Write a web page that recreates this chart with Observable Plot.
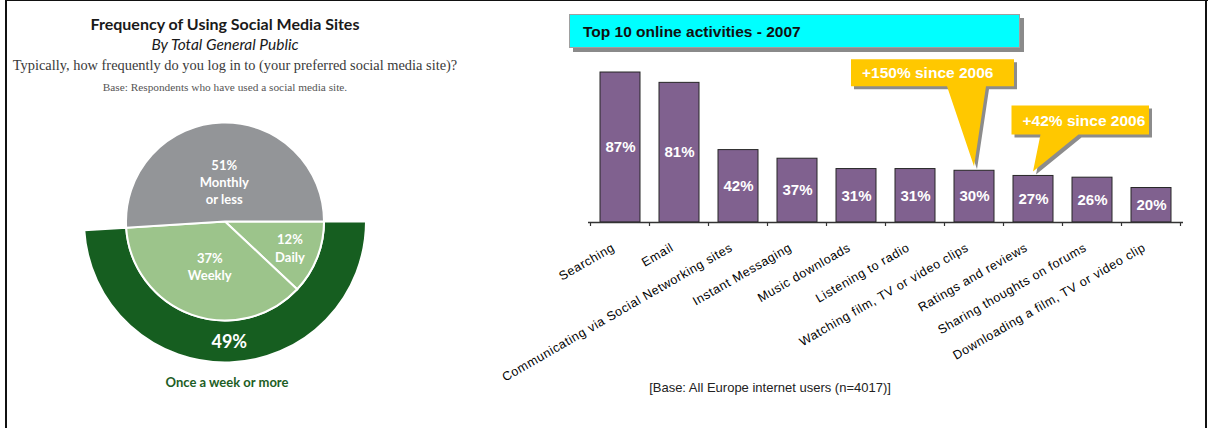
<!DOCTYPE html>
<html>
<head>
<meta charset="utf-8">
<script src="https://cdn.jsdelivr.net/npm/d3@7"></script>
<script src="https://cdn.jsdelivr.net/npm/@observablehq/plot@0.6"></script>
<style>
  html, body { margin: 0; padding: 0; background: #fff; }
  #frame { position: relative; width: 1208px; height: 428px; overflow: hidden; background: #fff; }
  .abs { position: absolute; white-space: nowrap; }
  .line { position: absolute; background: #111; }
  .ctr { text-align: center; }
</style>
</head>
<body>
<div id="frame">
  <div class="line" style="left:5px;top:0;width:2px;height:428px;"></div>
  <div class="line" style="left:5px;top:0;width:1203px;height:1px;"></div>
  <div class="line" style="left:1205px;top:0;width:2px;height:428px;"></div>

  <div class="abs ctr" id="pieTitle" style="left:0;width:450px;top:14px;font:700 16px/20px Lato, 'Open Sans', sans-serif;color:#1a1a1a;"></div>
  <div class="abs ctr" id="pieSub" style="left:0;width:450px;top:34px;font:italic 15.5px/20px Lato, 'Open Sans', sans-serif;color:#1a1a1a;"></div>
  <div class="abs ctr" id="pieQuestion" style="left:0;width:470px;top:55px;font:14.4px/20px 'Liberation Serif', 'DejaVu Serif', serif;color:#3a3a3a;"></div>
  <div class="abs ctr" id="pieBase" style="left:0;width:450px;top:79px;font:11.3px/16px 'Liberation Serif', 'DejaVu Serif', serif;color:#555;"></div>
  <div class="abs ctr" id="pieFoot" style="left:2px;width:450px;top:373px;font:700 13px/18px Lato, 'Open Sans', sans-serif;color:#1d5e25;"></div>

  <div id="pie" class="abs" style="left:0;top:0;"></div>

  <div class="abs" id="barTitle" style="left:569px;top:14px;width:451px;height:34px;background:#00ffff;border:1px solid #a0a0a0;box-shadow:4px 4px 0 #8a8a8a;font:700 15.5px/33px 'Liberation Sans', Arial, sans-serif;color:#111;padding-left:13px;box-sizing:border-box;"></div>
  <div id="bars" class="abs" style="left:540px;top:0;"></div>
  <div class="abs ctr" id="barCaption" style="left:620px;width:300px;top:379px;font:13px/18px 'Liberation Sans', Arial, sans-serif;color:#222;"></div>
</div>

<script>
// ---------- Data ----------
const pieTitle = "Frequency of Using Social Media Sites";
const pieSubtitle = "By Total General Public";
const pieQuestion = "Typically, how frequently do you log in to (your preferred social media site)?";
const pieBase = "Base: Respondents who have used a social media site.";
const freqCategories = ["Daily", "Weekly", "Monthly or less"];
const freqShares = [12, 37, 51];
const freqLabelLines = ["12%\nDaily", "37%\nWeekly", "51%\nMonthly\nor less"];
const combinedLabel = "Once a week or more";

const barTitle = "Top 10 online activities - 2007";
const activities = [
  "Searching", "Email", "Communicating via Social Networking sites",
  "Instant Messaging", "Music downloads", "Listening to radio",
  "Watching film, TV or video clips", "Ratings and reviews",
  "Sharing thoughts on forums", "Downloading a film, TV or video clip"
];
const activityShares = [87, 81, 42, 37, 31, 31, 30, 27, 26, 20];
const calloutActivities = ["Watching film, TV or video clips", "Ratings and reviews"];
const calloutTexts = ["+150% since 2006", "+42% since 2006"];
const barCaption = "[Base: All Europe internet users (n=4017)]";

// ---------- Styles / layout (not data) ----------
const calloutLayout = [
  {left: -123, right: 40, top: -107, bottom: -80, base1: -27, base2: 12, textDx: 11},
  {left: -21.5, right: 116, top: -66, bottom: -37, base1: 7.5, base2: 45.5, textDx: 11}
];

// ---------- Texts ----------
document.getElementById("pieTitle").textContent = pieTitle;
document.getElementById("pieSub").textContent = pieSubtitle;
document.getElementById("pieQuestion").textContent = pieQuestion;
document.getElementById("pieBase").textContent = pieBase;
document.getElementById("pieFoot").textContent = combinedLabel;
document.getElementById("barTitle").textContent = barTitle;
document.getElementById("barCaption").textContent = barCaption;

// ---------- Pie ----------
const freqData = freqCategories.map((c, i) => ({category: c, share: freqShares[i], label: freqLabelLines[i]}));
const start = Math.PI / 2;
const arcs = d3.pie().sort(null).value(d => d.share).startAngle(start).endAngle(start + 2 * Math.PI)(freqData);
const combinedShare = freqShares[0] + freqShares[1];
const total = d3.sum(freqShares);
const ringEnd = start + 2 * Math.PI * combinedShare / total;
const pieColors = {"Daily": "#9cc48b", "Weekly": "#9cc48b", "Monthly or less": "#939598"};
const R0 = 0.99, R1 = 1.41;

const pieLabelData = arcs.map(a => {
  const mid = (a.startAngle + a.endAngle) / 2;
  const frac = a.data.share / total;
  const k = frac > 0.5 ? 0.41 : frac < 0.2 ? 0.7 : 0.47;
  return {x: Math.sin(mid) * R0 * k, y: Math.cos(mid) * R0 * k, text: a.data.label};
});
const ringMid = (start + ringEnd) / 2;
const ringLabel = [{x: Math.sin(ringMid) * (R0 + R1) / 2, y: Math.cos(ringMid) * (R0 + R1) / 2, text: combinedShare + "%"}];

function pieMark(index, scales) {
  const sx = scales.x, sy = scales.y;
  const cx = sx(0), cy = sy(0), u = sx(1) - sx(0);
  const g = d3.create("svg:g").attr("transform", `translate(${cx},${cy})`);
  g.append("path")
    .attr("d", d3.arc()({innerRadius: R0 * u, outerRadius: R1 * u, startAngle: start, endAngle: ringEnd}))
    .attr("fill", "#165e20").attr("stroke", "#fff").attr("stroke-width", 2);
  for (const a of arcs) {
    g.append("path")
      .attr("d", d3.arc()({innerRadius: 0, outerRadius: R0 * u, startAngle: a.startAngle, endAngle: a.endAngle}))
      .attr("fill", pieColors[a.data.category]).attr("stroke", "#fff").attr("stroke-width", 2);
  }
  return g.node();
}

const pie = Plot.plot({
  width: 450, height: 428, margin: 0,
  x: {domain: [-2.25, 2.25], axis: null},
  y: {domain: [-2.065, 2.215], axis: null},
  style: {background: "transparent", fontFamily: "Lato, 'Open Sans', sans-serif", overflow: "visible"},
  marks: [
    pieMark,
    Plot.text(pieLabelData, {x: "x", y: "y", text: "text", fill: "#fff", fontSize: 13, fontWeight: "bold", lineHeight: 1.33}),
    Plot.text(ringLabel, {x: "x", y: "y", text: "text", fill: "#fff", fontSize: 18, fontWeight: "bold"})
  ]
});
document.getElementById("pie").appendChild(pie);

// ---------- Bars ----------
const barData = activities.map((a, i) => ({activity: a, share: activityShares[i]}));

function axisTicks(index, scales) {
  const sx = scales.x, sy = scales.y;
  const bw = sx.bandwidth(), step = sx.step();
  const edges = activities.map(a => sx(a) - (step - bw) / 2);
  edges.push(sx(activities[activities.length - 1]) + bw + (step - bw) / 2);
  const g = d3.create("svg:g").attr("stroke", "#333").attr("stroke-width", 1.2);
  const y0 = sy(0);
  for (const e of edges) g.append("line").attr("x1", e).attr("x2", e).attr("y1", y0).attr("y2", y0 + 4);
  return g.node();
}

function calloutMark(index, scales) {
  const sx = scales.x, sy = scales.y;
  const bw = sx.bandwidth();
  const g = d3.create("svg:g").attr("text-anchor", "start");
  calloutActivities.forEach((act, i) => {
    const L = calloutLayout[i];
    const share = activityShares[activities.indexOf(act)];
    const tx = sx(act) + bw / 2, ty = sy(share) - 4;
    const p = d3.path();
    p.moveTo(tx + L.left, ty + L.top);
    p.lineTo(tx + L.right, ty + L.top);
    p.lineTo(tx + L.right, ty + L.bottom);
    p.lineTo(tx + L.base2, ty + L.bottom);
    p.lineTo(tx, ty);
    p.lineTo(tx + L.base1, ty + L.bottom);
    p.lineTo(tx + L.left, ty + L.bottom);
    p.closePath();
    g.append("path").attr("d", p.toString()).attr("fill", "#8c8c8c").attr("transform", "translate(3,3)");
    g.append("path").attr("d", p.toString()).attr("fill", "#ffc800");
    g.append("text")
      .attr("x", tx + L.left + L.textDx).attr("y", ty + (L.top + L.bottom) / 2)
      .attr("dy", "0.36em").attr("fill", "#fff").attr("font-weight", "bold").attr("font-size", 15.5)
      .attr("text-anchor", "start")
      .text(calloutTexts[i]);
  });
  return g.node();
}

const bars = Plot.plot({
  width: 668, height: 428,
  marginLeft: 48, marginRight: 25, marginTop: 49.6, marginBottom: 206,
  x: {domain: activities, paddingInner: 0.33, paddingOuter: 0.165, axis: null},
  y: {domain: [0, 100], axis: null},
  style: {background: "transparent", fontFamily: "'Liberation Sans', Arial, sans-serif", overflow: "visible"},
  marks: [
    Plot.barY(barData, {x: "activity", y: "share", fill: "#80618f", stroke: "#262626", strokeWidth: 1}),
    Plot.ruleY([0], {stroke: "#333", strokeWidth: 1.3}),
    axisTicks,
    Plot.text(barData, {x: "activity", y: d => d.share / 2, text: d => d.share + "%", fill: "#fff", fontSize: 15, fontWeight: "bold"}),
    Plot.text(barData, {x: "activity", y: 0, text: "activity", rotate: -30, textAnchor: "end", dx: -7, dy: 24, fontSize: 12.5, fill: "#000"}),
    calloutMark
  ]
});
const textGroups = d3.select(bars).selectAll("g[aria-label='text']");
textGroups.filter((d, i) => i === 1).attr("letter-spacing", "0.6px");
document.getElementById("bars").appendChild(bars);
</script>
</body>
</html>
